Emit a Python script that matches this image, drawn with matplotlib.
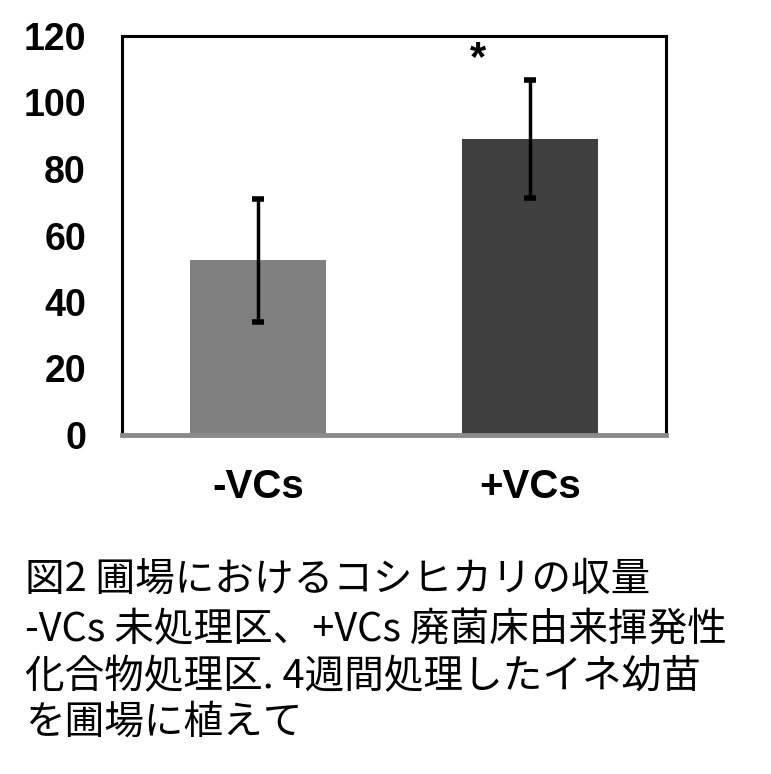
import matplotlib
matplotlib.use("Agg")
import matplotlib.pyplot as plt

plt.rcParams['font.family'] = ['Liberation Sans', 'DejaVu Sans']

categories = ["-VCs", "+VCs"]
yields = [52.5, 89.0]
errors = [18.5, 17.7]
bar_colors = ["#808080", "#404040"]
yticks = [0, 20, 40, 60, 80, 100, 120]
caption_lines = [
    "図2 圃場におけるコシヒカリの収量",
    "-VCs 未処理区、+VCs 廃菌床由来揮発性",
    "化合物処理区. 4週間処理したイネ幼苗",
    "を圃場に植えて",
]

fig = plt.figure(figsize=(7.71, 7.74), dpi=100)
ax = fig.add_axes([122 / 771, 1 - 435 / 774, 544 / 771, 399 / 774])

x = list(range(len(categories)))
ax.bar(x, yields, width=0.5, color=bar_colors, zorder=2)
ax.errorbar(x, yields, yerr=errors, fmt="none", ecolor="black",
            elinewidth=2.5, capsize=4, capthick=4, zorder=3)

ax.set_xlim(-0.5, 1.5)
ax.set_ylim(0, 120)
ax.set_yticks(yticks)
ax.set_xticks(x)
ax.set_xticklabels(categories)
ax.tick_params(axis="both", length=0)
ax.tick_params(axis="y", pad=26, labelsize=27)
ax.tick_params(axis="x", pad=24, labelsize=29)
for lab in ax.get_xticklabels() + ax.get_yticklabels():
    lab.set_fontweight("bold")

for side in ["left", "top", "right"]:
    ax.spines[side].set_linewidth(2.2)
    ax.spines[side].set_color("black")
ax.spines["bottom"].set_linewidth(3.5)
ax.spines["bottom"].set_color("#8a8a8a")

ax.text(0.81, 113, "*", ha="center", va="center", fontsize=30, fontweight="bold")

cjk = ['Noto Sans CJK JP', 'DejaVu Sans']
line_y = [580, 630, 677, 723]
for txt, yy in zip(caption_lines, line_y):
    fig.text(25 / 771, 1 - yy / 774, txt, ha="left", va="center",
             fontsize=28.5, family=cjk)

fig.savefig("out.png", dpi=100, facecolor="white")
